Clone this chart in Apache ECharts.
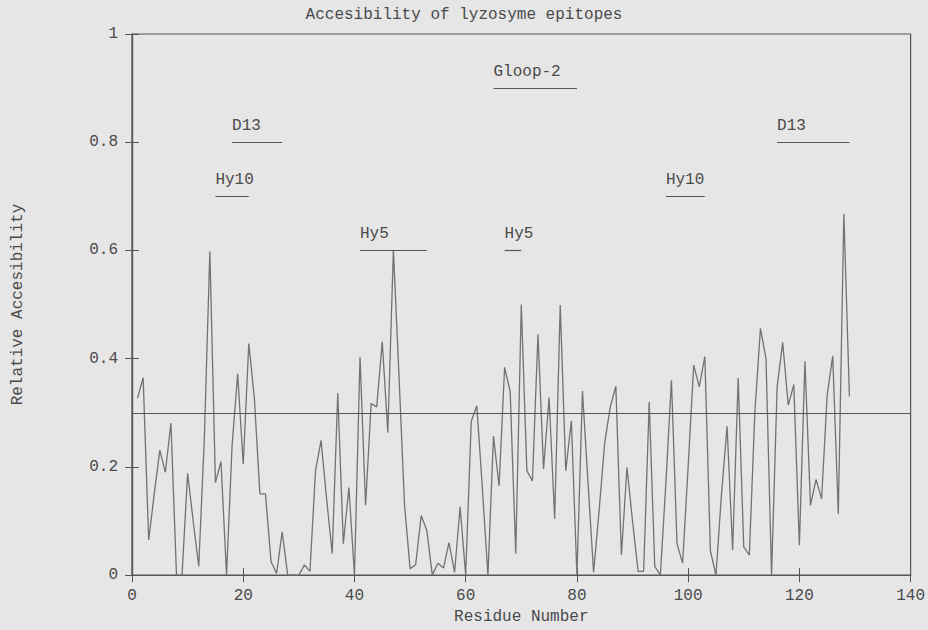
<!DOCTYPE html>
<html>
<head>
<meta charset="utf-8">
<style>
  html, body { margin: 0; padding: 0; background: #e6e6e6; }
  #chart { width: 928px; height: 630px; }
</style>
<script src="https://cdn.jsdelivr.net/npm/echarts@6/dist/echarts.min.js"></script>
</head>
<body>
<div id="chart"></div>
<script>
// residue numbers 1..129 and relative accessibility
var residues = [];
for (var i = 1; i <= 129; i++) residues.push(i);
var access = [
  0.327, 0.365, 0.065, 0.15, 0.231, 0.19, 0.281, 0.0, 0.0, 0.188,
  0.10, 0.016, 0.25, 0.598, 0.171, 0.21, 0.0, 0.24, 0.372, 0.205,
  0.428, 0.327, 0.15, 0.15, 0.025, 0.003, 0.08, 0.0, 0.0, 0.0,
  0.019, 0.007, 0.193, 0.249, 0.14, 0.04, 0.336, 0.058, 0.162, 0.0,
  0.403, 0.129, 0.317, 0.311, 0.431, 0.263, 0.601, 0.37, 0.13, 0.012,
  0.019, 0.11, 0.083, 0.0, 0.022, 0.013, 0.06, 0.005, 0.126, 0.0,
  0.284, 0.313, 0.16, 0.0, 0.257, 0.165, 0.384, 0.339, 0.04, 0.5,
  0.193, 0.174, 0.445, 0.196, 0.328, 0.104, 0.499, 0.193, 0.285, 0.0,
  0.34, 0.17, 0.005, 0.12, 0.245, 0.311, 0.349, 0.037, 0.199, 0.1,
  0.007, 0.007, 0.32, 0.016, 0.0, 0.17, 0.36, 0.058, 0.022, 0.2,
  0.388, 0.348, 0.404, 0.045, 0.0, 0.15, 0.275, 0.046, 0.364, 0.052,
  0.037, 0.302, 0.456, 0.4, 0.0, 0.348, 0.43, 0.314, 0.352, 0.055,
  0.395, 0.129, 0.177, 0.141, 0.333, 0.405, 0.113, 0.668, 0.33
];
var threshold = 0.3;

// epitope bars: label, first residue, last residue, height
var epiNames  = ['D13', 'Hy10', 'Hy5', 'Gloop-2', 'Hy5', 'Hy10', 'D13'];
var epiStarts = [18, 15, 41, 65, 67, 96, 116];
var epiEnds   = [27, 21, 53, 80, 70, 103, 129];
var epiLevels = [0.8, 0.7, 0.6, 0.9, 0.6, 0.7, 0.8];

var font = 'Liberation Mono';
var ink = '#4a4a4a';
var lineCol = '#727272';

var markData = [{ yAxis: threshold, label: { show: false } }];
for (var k = 0; k < epiNames.length; k++) {
  markData.push([
    { coord: [epiStarts[k], epiLevels[k]], name: epiNames[k] },
    { coord: [epiEnds[k], epiLevels[k]] }
  ]);
}

var chart = echarts.init(document.getElementById('chart'), null, { renderer: 'svg' });
chart.setOption({
  animation: false,
  backgroundColor: '#e6e6e6',
  textStyle: { fontFamily: font },
  title: {
    text: 'Accesibility of lyzosyme epitopes',
    left: 'center',
    top: 2,
    textStyle: { fontFamily: font, fontSize: 16, fontWeight: 'normal', color: ink }
  },
  grid: { left: 132, right: 14, top: 34, bottom: 48, show: true, borderColor: '#555', borderWidth: 1.2, backgroundColor: 'transparent' },
  xAxis: [{
    type: 'value', min: 0, max: 140, interval: 20,
    name: 'Residue Number', nameLocation: 'middle', nameGap: 30,
    nameTextStyle: { fontFamily: font, fontSize: 16, color: ink },
    axisLine: { show: true, lineStyle: { color: '#555', width: 1.2 } },
    axisTick: { show: true, inside: true, length: 7, lineStyle: { color: '#555' } },
    axisLabel: { color: ink, fontSize: 16, margin: 13, fontFamily: font },
    splitLine: { show: false }
  }, {
    type: 'value', min: 0, max: 140, interval: 20, position: 'top',
    axisLine: { show: true, lineStyle: { color: '#555', width: 1.2 } },
    axisTick: { show: true, inside: true, length: 7, lineStyle: { color: '#555' } },
    axisLabel: { show: false },
    splitLine: { show: false }
  }],
  yAxis: [{
    type: 'value', min: 0, max: 1, interval: 0.2,
    name: 'Relative Accesibility', nameLocation: 'middle', nameGap: 106,
    nameTextStyle: { fontFamily: font, fontSize: 16, color: ink },
    axisLine: { show: true, lineStyle: { color: '#555', width: 1.2 } },
    axisTick: { show: true, inside: true, length: 7, lineStyle: { color: '#555' } },
    axisLabel: { color: ink, fontSize: 16, margin: 14, fontFamily: font },
    splitLine: { show: false }
  }, {
    type: 'value', min: 0, max: 1, interval: 0.2, position: 'right',
    axisLine: { show: true, lineStyle: { color: '#555', width: 1.2 } },
    axisTick: { show: true, inside: true, length: 7, lineStyle: { color: '#555' } },
    axisLabel: { show: false },
    splitLine: { show: false }
  }],
  series: [{
    type: 'line',
    xAxisIndex: 0,
    yAxisIndex: 0,
    data: residues.map(function (r, j) { return [r, access[j]]; }),
    showSymbol: false,
    lineStyle: { color: lineCol, width: 1.3 },
    markLine: {
      silent: true,
      symbol: 'none',
      lineStyle: { color: '#555', width: 1.2, type: 'solid' },
      label: {
        show: true,
        position: 'insideStartTop',
        distance: [0, 8],
        formatter: '{b}',
        color: ink,
        fontFamily: font,
        fontSize: 16
      },
      data: markData
    }
  }]
});
</script>
</body>
</html>
